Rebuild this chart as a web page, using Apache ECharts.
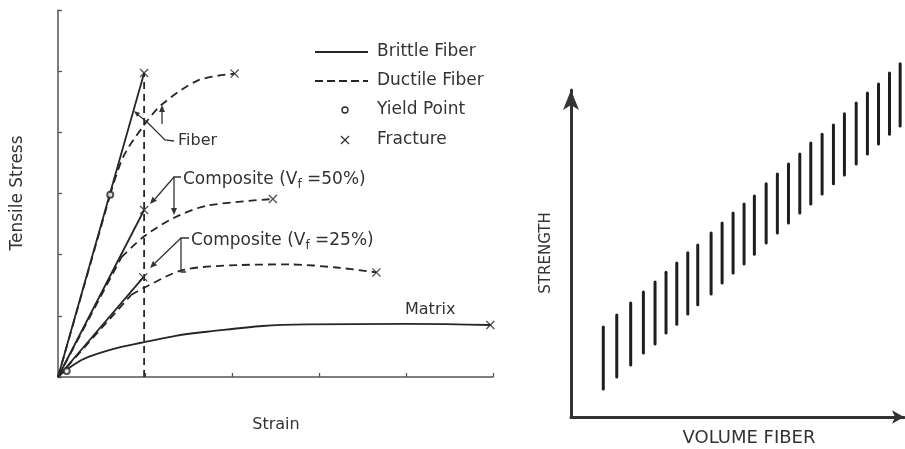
<!DOCTYPE html>
<html><head><meta charset="utf-8">
<script src="https://cdn.jsdelivr.net/npm/echarts@6/dist/echarts.min.js"></script>
<style>html,body{margin:0;padding:0;background:#fff}#c{width:905px;height:449px}</style>
</head><body><div id="c"></div>
<script>
// ---------- Left panel: strain (x) vs tensile stress (y), arbitrary units ----------
const fiberBrittle   = [[0,0],[0.99,4.97]];
const fiberDuctile   = [[0,0],[0.6,2.98],[0.75,3.6],[0.99,4.12],[1.19,4.45],[1.61,4.85],[2.03,4.96]];
const comp50Brittle  = [[0,0],[0.99,2.73]];
const comp50Ductile  = [[0,0],[0.73,1.96],[0.99,2.3],[1.33,2.6],[1.71,2.8],[2.47,2.91]];
const comp25Brittle  = [[0,0],[0.98,1.63]];
const comp25Ductile  = [[0,0],[0.84,1.34],[0.99,1.46],[1.44,1.75],[2.09,1.83],[2.67,1.84],[3.2,1.79],[3.66,1.71]];
const matrixCurve    = [[0,0],[0.1,0.12],[0.35,0.33],[0.99,0.57],[1.71,0.74],[2.86,0.86],[4.0,0.87],[4.97,0.85]];
const fiberFractureStrain = [[0.99,0],[0.99,4.97]];
const yieldPoints    = [[0.6,2.98],[0.1,0.1]];
const fracturePoints = [[0.99,4.97],[2.03,4.96],[0.99,2.73],[2.47,2.91],[0.98,1.63],[3.66,1.71],[4.97,0.85]];
const legendNames = ['Brittle Fiber','Ductile Fiber','Yield Point','Fracture'];

// ---------- Right panel: volume fiber (x) vs strength range (y) ----------
const volumeFiber  = [2.85,4.04,5.27,6.39,7.42,8.39,9.34,10.31,11.19,12.37,13.34,14.31,15.28,16.19,17.23,18.22,19.2,20.2,21.17,22.17,23.17,24.14,25.18,26.17,27.15,28.12,29.06];
const strengthLow  = [8.6,12.2,15.9,19.6,22.3,25.7,28.4,31.5,34.3,37.6,41.0,44.0,46.8,49.8,53.2,56.3,59.3,62.4,65.1,68.2,71.3,74.0,77.4,80.4,83.5,86.5,89.0];
const strengthHigh = [27.5,31.2,34.9,38.2,41.3,44.3,47.1,50.2,52.6,56.3,59.3,62.4,65.1,67.6,71.3,74.3,77.4,80.4,83.8,86.5,89.3,92.7,96.0,99.1,101.8,105.2,108.0];

const INK = '#262626';
const TXT = '#333';
const FONT = 'DejaVu Sans';
const xPath = 'path://M0,1L1,0L5,4L9,0L10,1L6,5L10,9L9,10L5,6L1,10L0,9L4,5Z';

function arrowHead(x1,y1,x2,y2,len,w){
  len = len||7; w = w||3;
  const a = Math.atan2(y2-y1,x2-x1);
  const bx = x2-len*Math.cos(a), by = y2-len*Math.sin(a);
  const px = -Math.sin(a)*w, py = Math.cos(a)*w;
  return {type:'polygon', shape:{points:[[x2,y2],[bx+px,by+py],[bx-px,by-py]]}, style:{fill:TXT}, silent:true};
}
function pl(points, dash){ return {type:'polyline', shape:{points:points}, style:{stroke:TXT, lineWidth:1.3, fill:null, lineDash:dash||null}, silent:true}; }
function txt(x,y,text,opts){
  opts = opts||{};
  return {type:'text', x:x, y:y, rotation:opts.rotation||0, silent:true,
    style:{text:text, fill:TXT, fontFamily:FONT, fontSize:opts.size||17, align:opts.align||'left', verticalAlign:'middle', rich:opts.rich}};
}
const subRich = {s:{fontSize:12, fontFamily:FONT, fill:TXT, padding:[9,0,0,0]}};

const solid = {color:INK, width:1.8, type:'solid'};
const dashed = {color:INK, width:1.8, type:[8,5]};
function lineSeries(name, data, style, smooth){
  return {type:'line', name:name, xAxisIndex:0, yAxisIndex:0, data:data, symbol:'none', showSymbol:false,
    smooth:smooth||false, lineStyle:style, itemStyle:{color:INK}, z:3, silent:true};
}
// ductile curves: straight elastic part up to the 2nd point, smooth plastic part afterwards
function ductile(name, data){
  return [lineSeries(name, data.slice(0,2), dashed), lineSeries(name, data.slice(1), dashed, 0.3)];
}

const volumeData = volumeFiber.map((v,i)=>[v, strengthLow[i], strengthHigh[i]]);

const chart = echarts.init(document.getElementById('c'), null, {renderer:'canvas'});
chart.setOption({
  animation:false,
  backgroundColor:'#fff',
  textStyle:{fontFamily:FONT, color:TXT},
  grid:[
    {left:58, top:10, width:435, height:367},
    {left:571, top:90, width:333, height:327}
  ],
  xAxis:[
    {gridIndex:0, type:'value', min:0, max:5, interval:1,
     axisLine:{lineStyle:{color:'#555', width:1.5}}, axisTick:{show:true, inside:true, length:4, lineStyle:{color:'#555', width:1.3}},
     axisLabel:{show:false}, splitLine:{show:false}},
    {gridIndex:1, type:'value', min:0, max:29.4,
     axisLine:{lineStyle:{color:'#333', width:3}, symbol:['none','arrow'], symbolSize:[10,12]},
     axisTick:{show:false}, axisLabel:{show:false}, splitLine:{show:false}}
  ],
  yAxis:[
    {gridIndex:0, type:'value', min:0, max:6, interval:1,
     axisLine:{show:true, lineStyle:{color:'#555', width:1.5}}, axisTick:{show:true, inside:true, length:4, lineStyle:{color:'#555', width:1.3}},
     axisLabel:{show:false}, splitLine:{show:false}},
    {gridIndex:1, type:'value', min:0, max:100,
     axisLine:{show:true, lineStyle:{color:'#333', width:3}, symbol:['none','arrow'], symbolSize:[12,20]},
     axisTick:{show:false}, axisLabel:{show:false}, splitLine:{show:false}}
  ],
  series:[
    lineSeries('Brittle Fiber', fiberBrittle, solid),
    lineSeries('Brittle Fiber', comp50Brittle, solid),
    lineSeries('Brittle Fiber', comp25Brittle, solid),
    lineSeries('Matrix', matrixCurve, solid, 0.45),
    ...ductile('Ductile Fiber', fiberDuctile),
    ...ductile('Ductile Fiber', comp50Ductile),
    ...ductile('Ductile Fiber', comp25Ductile),
    lineSeries('Fiber fracture strain', fiberFractureStrain, {color:INK, width:1.8, type:[7,5]}),
    {type:'scatter', name:'Yield Point', xAxisIndex:0, yAxisIndex:0, data:yieldPoints, symbol:'emptyCircle', symbolSize:6,
     itemStyle:{color:INK, borderColor:INK, borderWidth:1.3}, z:5, silent:true},
    {type:'scatter', name:'Fracture', xAxisIndex:0, yAxisIndex:0, data:fracturePoints, symbol:xPath, symbolSize:9,
     itemStyle:{color:INK}, z:5, silent:true},
    {type:'custom', name:'Strength range', xAxisIndex:1, yAxisIndex:1, data:volumeData, clip:false, silent:true,
     renderItem:function(params, api){
       const lo = api.coord([api.value(0), api.value(1)]);
       const hi = api.coord([api.value(0), api.value(2)]);
       return {type:'line', shape:{x1:lo[0], y1:lo[1], x2:hi[0], y2:hi[1]}, style:{stroke:'#1e1e1e', lineWidth:3, lineCap:'round'}};
     }}
  ],
  graphic:[
    // legend
    {type:'line', shape:{x1:315,y1:52,x2:368,y2:52}, style:{stroke:INK, lineWidth:1.8}, silent:true},
    {type:'line', shape:{x1:315,y1:81,x2:368,y2:81}, style:{stroke:INK, lineWidth:1.8, lineDash:[8,4]}, silent:true},
    {type:'circle', shape:{cx:345,cy:110,r:3}, style:{stroke:INK, lineWidth:1.3, fill:'#fff'}, silent:true},
    pl([[341,136],[349,144]]), pl([[349,136],[341,144]]),
    txt(377,52,legendNames[0]), txt(377,81,legendNames[1]), txt(377,110,legendNames[2]), txt(377,140,legendNames[3]),
    // titles
    txt(18,193,'Tensile Stress',{rotation:Math.PI/2, align:'center'}),
    txt(276,425,'Strain',{align:'center', size:16}),
    txt(178,141,'Fiber',{size:16}),
    txt(183,180,'Composite (V{s|f} =50%)',{rich:subRich}),
    txt(191,241,'Composite (V{s|f} =25%)',{rich:subRich}),
    txt(405,310,'Matrix',{size:16}),
    txt(546,253,'STRENGTH',{rotation:Math.PI/2, align:'center', size:15}),
    txt(749,438,'VOLUME FIBER',{align:'center', size:18}),
    // Fiber leaders
    pl([[174,141],[165,140],[147,122]]),
    pl([[147,122],[137,114]]), arrowHead(147,122,134,111,6,2.5),
    pl([[162,124],[162,110]]), arrowHead(162,124,162,105,7,3),
    // Composite 50% leaders
    pl([[181,177],[174,177],[174,210]]), arrowHead(174,200,174,215,7,3),
    pl([[174,177],[155,199]]), arrowHead(174,177,150,204,7,3),
    // Composite 25% leaders
    pl([[189,238],[181,238],[181,272],[186,272]]),
    pl([[181,238],[155,263]]), arrowHead(181,238,150,268,7,3)
  ]
});
</script></body></html>
